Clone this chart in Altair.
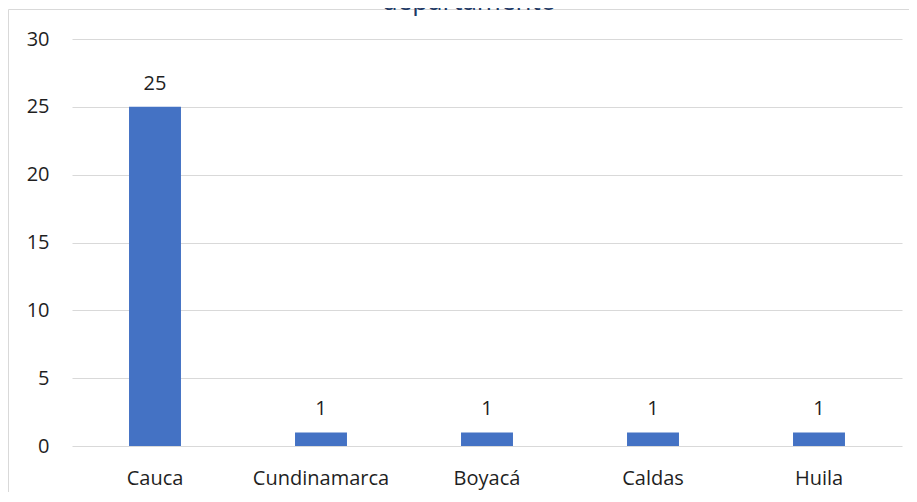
import altair as alt
import pandas as pd

categories = ["Cauca", "Cundinamarca", "Boyacá", "Caldas", "Huila"]
values = [25, 1, 1, 1, 1]
y_ticks = [0, 5, 10, 15, 20, 25, 30]
title_text = "departamento"

df = pd.DataFrame({"dep": categories, "n": values})
FONT = "Open Sans"
TXT = "#1F1F1F"

base = alt.Chart(df)

box = base.mark_rect(fill=None, stroke="#D9D9D9", strokeWidth=1).encode(
    x=alt.value(-63.5), x2=alt.value(3000), y=alt.value(-29.5), y2=alt.value(3000)
).transform_filter(alt.datum.dep == "Cauca")

bars = base.mark_bar(color="#4472C4").encode(
    x=alt.X("dep:N", sort=categories,
            scale=alt.Scale(paddingInner=0.687, paddingOuter=0.3435),
            axis=alt.Axis(title=None, labelAngle=0, ticks=False, tickSize=0, domain=False,
                          grid=False, labelFont=FONT, labelFontSize=20, labelColor=TXT,
                          labelPadding=22)),
    y=alt.Y("n:Q", scale=alt.Scale(domain=[0, 30], nice=False),
            axis=alt.Axis(title=None, values=y_ticks, ticks=False, tickSize=0, domain=False,
                          grid=True, gridColor="#D9D9D9", gridWidth=1,
                          labelFont=FONT, labelFontSize=20, labelColor=TXT,
                          labelPadding=23)),
)

labels = base.mark_text(font=FONT, fontSize=20, color=TXT, baseline="alphabetic",
                        dy=-17).encode(
    x=alt.X("dep:N", sort=categories),
    y=alt.Y("n:Q"),
    text=alt.Text("n:Q"),
)

title = base.mark_text(font=FONT, fontSize=26, color="#203864", baseline="alphabetic",
                       align="center").encode(
    x=alt.value(397), y=alt.value(-29), text=alt.value(title_text)
).transform_filter(alt.datum.dep == "Cauca")

chart = alt.layer(box, bars, labels, title).properties(
    width=830, height=407,
    autosize=alt.AutoSizeParams(type="none"),
    padding={"left": 64, "top": 31, "right": 7, "bottom": 46},
).configure_view(stroke=None)

chart.save("out.html", embed_options={"renderer": "svg", "actions": False})
